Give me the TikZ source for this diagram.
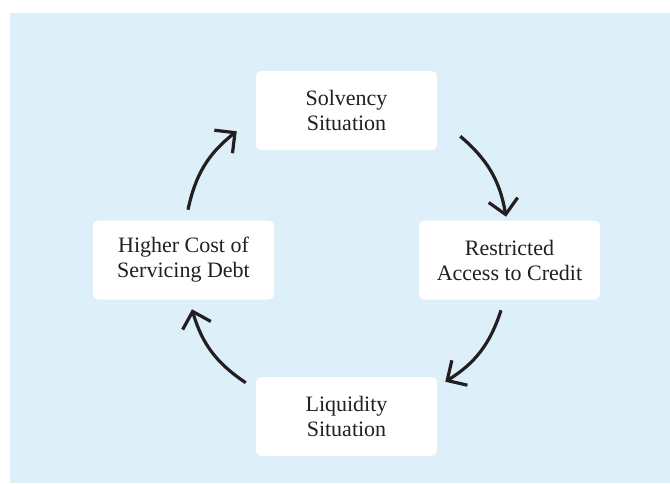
\documentclass[tikz,border=0pt]{standalone}
\usepackage{fontspec}
\setmainfont{Liberation Serif}
\usetikzlibrary{positioning,arrows.meta}
\definecolor{bgblue}{HTML}{DDF0F9}
\definecolor{ink}{HTML}{231F20}

\begin{document}
\begin{tikzpicture}[x=0.75pt,y=-0.75pt,on grid,
		>={Straight Barb[length=11pt,width=22pt,line cap=butt,line join=miter]}]
				\tikzstyle{box}=[fill=white,rounded corners=4pt,minimum width=135.75pt,minimum height=59.25pt,align=center,text=ink,font=\fontsize{16.5}{18.75}\selectfont]
				\tikzstyle{flow}=[->,draw=ink,line width=2.4pt,bend left=20]
				%Panel
				\useasboundingbox (0,0) rectangle (670,483);
				\fill[bgblue] (10,13) rectangle (670,483);
				%Top and bottom
				\node[box](solv) at (346.5,110.5){Solvency\\Situation};
				\node[box](liq)[below = 229.5pt of solv]{Liquidity\\Situation};
				%Left and right
				\node[box](rest)[below right = 112.125pt and 122.25pt of solv]{Restricted\\Access to Credit};
				\node[box](cost)[below left = 112.125pt and 122.25pt of solv]{Higher Cost of\\Servicing Debt};
				%Arrows round the loop
				\draw[flow] ([shift={(23,-14)}]solv.south east) to ([shift={(-3.5,-3.5)}]rest.north);
				\draw[flow] ([shift={(-8.5,10.5)}]rest.south) to ([shift={(8,5)}]liq.north east);
				\draw[flow] ([shift={(-10,6)}]liq.north west) to ([shift={(8.5,9.5)}]cost.south);
				\draw[flow] ([shift={(4.5,-10.5)}]cost.north) to ([shift={(-19,-19)}]solv.south west);
\end{tikzpicture}
\end{document}
